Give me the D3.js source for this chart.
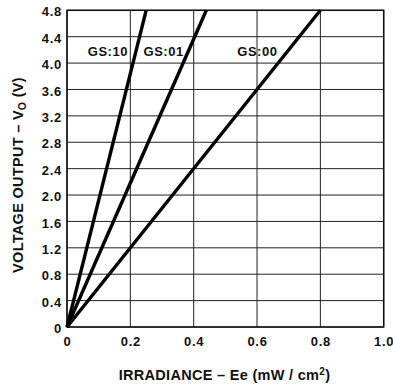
<!DOCTYPE html>
<html><head><meta charset="utf-8">
<script src="https://cdn.jsdelivr.net/npm/d3@7"></script>
<style>body{margin:0;background:#fff}svg{display:block}text{font-family:"Liberation Sans",Arial,sans-serif;font-weight:bold;fill:#111}</style>
</head><body>
<script>
const xTicks = [0, 0.2, 0.4, 0.6, 0.8, 1.0];
const xTickLabels = ["0", "0.2", "0.4", "0.6", "0.8", "1.0"];
const yTicks = [0, 0.4, 0.8, 1.2, 1.6, 2.0, 2.4, 2.8, 3.2, 3.6, 4.0, 4.4, 4.8];
const yTickLabels = ["0", "0.4", "0.8", "1.2", "1.6", "2.0", "2.4", "2.8", "3.2", "3.6", "4.0", "4.4", "4.8"];
const seriesNames = ["GS:10", "GS:01", "GS:00"];
const seriesX = [[0, 0.25], [0, 0.44], [0, 0.8]];
const seriesY = [[0, 4.8], [0, 4.8], [0, 4.8]];
const labelPos = [[0.129, 4.17], [0.305, 4.17], [0.601, 4.17]];

const W = 393, H = 387;
const svg = d3.select("body").append("svg").attr("width", W).attr("height", H);
const x = d3.scaleLinear().domain([0, 1]).range([67, 383.7]);
const y = d3.scaleLinear().domain([0, 4.8]).range([327, 10.3]);

// grid
const g = svg.append("g");
g.selectAll(".vg").data(xTicks).join("line")
  .attr("x1", d => x(d)).attr("x2", d => x(d)).attr("y1", y(0)).attr("y2", y(4.8))
  .attr("stroke", "#222").attr("stroke-width", 1);
g.selectAll(".hg").data(yTicks).join("line")
  .attr("y1", d => y(d)).attr("y2", d => y(d)).attr("x1", x(0)).attr("x2", x(1))
  .attr("stroke", "#222").attr("stroke-width", 1);
g.append("rect").attr("x", x(0)).attr("y", y(4.8)).attr("width", x(1) - x(0)).attr("height", y(0) - y(4.8))
  .attr("fill", "none").attr("stroke", "#111").attr("stroke-width", 1.5);

// axes (labels only)
const xAxis = d3.axisBottom(x).tickValues(xTicks).tickFormat((d, i) => xTickLabels[i]).tickSize(0).tickPadding(10);
const xa = svg.append("g").attr("transform", `translate(0,${y(0)})`).call(xAxis);
xa.select(".domain").remove();
xa.selectAll("text").attr("font-size", 13).attr("letter-spacing", 0.7).attr("font-family", null).attr("fill", "#111");

const yAxis = d3.axisLeft(y).tickValues(yTicks).tickFormat((d, i) => yTickLabels[i]).tickSize(0).tickPadding(5);
const ya = svg.append("g").attr("transform", `translate(${x(0)},1.5)`).call(yAxis);
ya.select(".domain").remove();
ya.selectAll("text").attr("font-size", 13).attr("letter-spacing", 0.7).attr("font-family", null).attr("fill", "#111");

// series lines
const line = d3.line().x(d => x(d[0])).y(d => y(d[1]));
seriesNames.forEach((n, i) => {
  const pts = seriesX[i].map((v, j) => [v, seriesY[i][j]]);
  svg.append("path").attr("d", line(pts)).attr("fill", "none").attr("stroke", "#000").attr("stroke-width", 3.4);
  svg.append("text").attr("x", x(labelPos[i][0])).attr("y", y(labelPos[i][1])).attr("text-anchor", "middle")
    .attr("dy", "0.35em").attr("font-size", 13).attr("letter-spacing", 0.5).text(n);
});

// titles
svg.append("text").attr("x", 224.5).attr("y", 380).attr("text-anchor", "middle").attr("font-size", 14.5)
  .attr("letter-spacing", 0.3)
  .html('IRRADIANCE – Ee (mW / cm<tspan dy="-5" font-size="10">2</tspan><tspan dy="5">)</tspan>');
svg.append("text").attr("transform", "translate(23,175) rotate(-90)").attr("text-anchor", "middle").attr("font-size", 14.5)
  .attr("letter-spacing", 0.3)
  .html('VOLTAGE OUTPUT – V<tspan dy="3" font-size="10.5">O</tspan><tspan dy="-3"> (V)</tspan>');
</script>
</body></html>
